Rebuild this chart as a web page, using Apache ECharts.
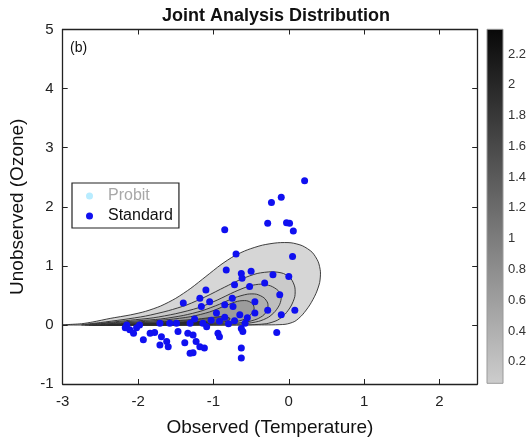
<!DOCTYPE html>
<html>
<head>
<meta charset="utf-8">
<script src="https://cdn.jsdelivr.net/npm/echarts@6/dist/echarts.min.js"></script>
<style>html,body{margin:0;padding:0;background:#fff;}#chart{width:532px;height:444px;}</style>
</head>
<body>
<div id="chart"></div>
<script>
// ---- data ----
const xTicks = [-3, -2, -1, 0, 1, 2];
const yTicks = [-1, 0, 1, 2, 3, 4, 5];
const colorbarTicks = [0.2, 0.4, 0.6, 0.8, 1, 1.2, 1.4, 1.6, 1.8, 2, 2.2];
const colorbarRange = [0.06, 2.36];

const standardPoints = [
  [0.21,2.44],[-0.10,2.16],[-0.23,2.07],[-0.28,1.72],[-0.03,1.73],[0.01,1.72],[0.06,1.59],[-0.85,1.61],[-0.70,1.20],[0.05,1.16],
  [-0.83,0.93],[-0.63,0.87],[-0.50,0.91],[-0.62,0.79],[-0.21,0.85],[0.00,0.82],[-0.72,0.68],[-0.52,0.65],[-0.32,0.71],[-1.10,0.59],
  [-0.12,0.51],[-0.75,0.45],[-1.18,0.45],[-0.45,0.39],[-1.40,0.37],[-1.05,0.39],[-0.85,0.34],[0.08,0.25],[-0.28,0.25],[-1.16,0.31],
  [-0.96,0.20],[-0.74,0.31],[-0.45,0.20],[-0.65,0.17],[-1.03,0.08],[-1.14,0.03],[-0.92,0.06],[-1.31,0.03],[-1.58,0.03],[-1.71,0.03],
  [-0.72,0.07],[-2.15,0.00],[-2.11,-0.08],[-2.06,-0.14],[-2.17,-0.05],[-1.93,-0.25],[-1.84,-0.14],[-1.78,-0.13],[-1.69,-0.20],[-1.62,-0.28],
  [-1.71,-0.34],[-1.60,-0.37],[-1.47,-0.11],[-1.34,-0.14],[-1.27,-0.17],[-1.38,-0.30],[-1.23,-0.28],[-1.18,-0.37],[-1.12,-0.39],[-1.31,-0.48],
  [-1.27,-0.47],[-0.94,-0.14],[-0.92,-0.20],[-0.63,-0.06],[-0.61,-0.11],[-0.63,-0.39],[-0.63,-0.56],[-0.16,-0.13],[-1.49,0.03],[-1.09,-0.03],
  [-1.25,0.10],[-0.85,0.13],[-0.58,0.03],[-0.55,0.12],[-0.80,0.02],[-0.10,0.17],[-2.02,-0.05],[-1.98,0.00]
];
const probitPoints = [];

// contour outlines (outer -> inner)
const contour1 = [[-3.0,0.0],[-2.75,0.02],[-2.6,0.05],[-2.37,0.11],[-2.1,0.17],[-1.9,0.23],[-1.7,0.32],[-1.5,0.45],[-1.3,0.62],[-1.1,0.82],[-0.9,1.02],[-0.72,1.17],[-0.55,1.27],[-0.35,1.35],[-0.15,1.39],[0.03,1.39],[0.18,1.34],[0.31,1.23],[0.39,1.07],[0.42,0.9],[0.41,0.72],[0.36,0.53],[0.28,0.34],[0.18,0.17],[0.08,0.06],[-0.05,0.01],[-0.4,0.0],[-1.2,0.0],[-2.2,0.0]];
const contour2 = [[-2.75,0.0],[-2.5,0.04],[-2.2,0.09],[-1.9,0.15],[-1.6,0.24],[-1.35,0.34],[-1.1,0.48],[-0.85,0.64],[-0.62,0.78],[-0.42,0.87],[-0.22,0.9],[-0.07,0.87],[0.03,0.78],[0.08,0.64],[0.08,0.48],[0.03,0.32],[-0.05,0.18],[-0.15,0.08],[-0.3,0.02],[-0.6,0.0],[-1.5,0.0],[-2.3,0.0]];
const contour3 = [[-2.7,0.0],[-2.4,0.04],[-2.1,0.08],[-1.8,0.12],[-1.5,0.19],[-1.2,0.29],[-0.95,0.42],[-0.72,0.56],[-0.52,0.66],[-0.37,0.69],[-0.24,0.66],[-0.14,0.58],[-0.10,0.47],[-0.12,0.35],[-0.18,0.23],[-0.27,0.13],[-0.4,0.06],[-0.6,0.02],[-1.0,0.0],[-2.0,0.0]];
const contour4 = [[-2.65,0.0],[-2.3,0.04],[-2.0,0.07],[-1.7,0.1],[-1.4,0.16],[-1.15,0.24],[-0.92,0.35],[-0.72,0.46],[-0.55,0.52],[-0.43,0.52],[-0.33,0.46],[-0.28,0.37],[-0.28,0.27],[-0.33,0.17],[-0.42,0.1],[-0.56,0.05],[-0.8,0.02],[-1.3,0.0],[-2.0,0.0]];
const contour5 = [[-2.6,0.0],[-2.2,0.035],[-1.9,0.06],[-1.6,0.09],[-1.3,0.14],[-1.05,0.22],[-0.85,0.32],[-0.68,0.40],[-0.56,0.41],[-0.48,0.36],[-0.46,0.27],[-0.5,0.18],[-0.58,0.1],[-0.72,0.05],[-0.95,0.02],[-1.4,0.0],[-2.0,0.0]];
const contour6 = [[-2.5,0.0],[-2.1,0.03],[-1.8,0.05],[-1.5,0.07],[-1.2,0.1],[-1.0,0.13],[-0.85,0.14],[-0.78,0.11],[-0.8,0.07],[-0.9,0.04],[-1.1,0.02],[-1.5,0.005],[-2.0,0.0]];
const contour7 = [[-2.4,0.0],[-2.0,0.02],[-1.7,0.035],[-1.4,0.05],[-1.2,0.06],[-1.08,0.05],[-1.1,0.025],[-1.3,0.01],[-1.8,0.0]];
const contours = [contour1, contour2, contour3, contour4, contour5, contour6, contour7];
const contourFills = ['#d6d6d6', '#cacaca', '#bebebe', '#b0b0b0', '#9c9c9c', '#5e5e5e', '#2a2a2a'];

const FONT = 'Liberation Sans, Arial, Helvetica, sans-serif';
const chart = echarts.init(document.getElementById('chart'));

const tickStyle = { show: true, inside: true, length: 5, lineStyle: { color: '#222', width: 1 } };
const lineStyle = { show: true, onZero: false, lineStyle: { color: '#222', width: 1.3 } };

chart.setOption({
  animation: false,
  backgroundColor: '#fff',
  title: {
    text: 'Joint Analysis Distribution',
    left: 157, top: 2,
    textStyle: { fontFamily: FONT, fontSize: 18, fontWeight: 'bold', color: '#111' }
  },
  graphic: [{
    type: 'text', left: 70, top: 41,
    style: { text: '(b)', font: '14px ' + FONT, fill: '#111' }
  }],
  legend: {
    orient: 'vertical', left: 72, top: 183,
    padding: [5, 6, 4, 14],
    itemGap: 4, itemWidth: 7, itemHeight: 7,
    backgroundColor: '#fff', borderColor: '#222', borderWidth: 1.2,
    textStyle: { fontFamily: FONT, fontSize: 16, color: '#111', padding: [0, 0, 0, 10] },
    data: [
      { name: 'Probit', icon: 'circle', textStyle: { color: '#a8a8a8' } },
      { name: 'Standard', icon: 'circle' }
    ],
    z: 10
  },
  grid: [
    { left: 62.7, top: 29.5, width: 414.5, height: 354.5, show: false },
    { left: 487, top: 29.3, width: 16, height: 354, show: false }
  ],
  xAxis: [
    {
      gridIndex: 0, type: 'value', min: -3, max: 2.5, interval: 1, position: 'bottom',
      axisLine: lineStyle, axisTick: tickStyle, splitLine: { show: false },
      axisLabel: { fontFamily: FONT, fontSize: 15, color: '#222', margin: 10, customValues: xTicks },
      name: 'Observed (Temperature)', nameLocation: 'middle', nameGap: 34,
      nameTextStyle: { fontFamily: FONT, fontSize: 19, color: '#111' }
    },
    {
      gridIndex: 0, type: 'value', min: -3, max: 2.5, interval: 1, position: 'top',
      axisLine: lineStyle, axisTick: tickStyle, axisLabel: { show: false }, splitLine: { show: false }
    },
    {
      gridIndex: 1, type: 'value', min: 0, max: 1, show: false
    }
  ],
  yAxis: [
    {
      gridIndex: 0, type: 'value', min: -1, max: 5, interval: 1, position: 'left',
      axisLine: lineStyle, axisTick: tickStyle, splitLine: { show: false },
      axisLabel: { fontFamily: FONT, fontSize: 15, color: '#222', margin: 9, customValues: yTicks },
      name: 'Unobserved (Ozone)', nameLocation: 'middle', nameGap: 35, nameRotate: 90,
      nameTextStyle: { fontFamily: FONT, fontSize: 19, color: '#111' }
    },
    {
      gridIndex: 0, type: 'value', min: -1, max: 5, interval: 1, position: 'right',
      axisLine: lineStyle, axisTick: tickStyle, axisLabel: { show: false }, splitLine: { show: false }
    },
    {
      gridIndex: 1, type: 'value', min: colorbarRange[0], max: colorbarRange[1], position: 'right',
      axisLine: { show: false, onZero: false }, splitLine: { show: false },
      axisTick: { show: true, inside: true, length: 3, lineStyle: { color: '#888' }, customValues: colorbarTicks },
      axisLabel: { fontFamily: FONT, fontSize: 13, color: '#333', margin: 5, customValues: colorbarTicks,
        formatter: v => String(+(+v).toFixed(1)) }
    }
  ],
  series: [
    {
      name: 'contours', type: 'custom', xAxisIndex: 0, yAxisIndex: 0, silent: true, z: 1,
      clip: true,
      data: contours.map(c => c[0]),
      renderItem: (params, api) => {
        const pts = contours[params.dataIndex].map(p => api.coord(p));
        return {
          type: 'polygon',
          shape: { points: pts, smooth: 0.25 },
          style: { fill: contourFills[params.dataIndex], stroke: '#2a2a2a', lineWidth: 0.9 }
        };
      }
    },
    {
      name: 'colorbar', type: 'custom', xAxisIndex: 2, yAxisIndex: 2, silent: true, z: 1,
      data: [[0, colorbarRange[1]]],
      renderItem: (params, api) => {
        const p0 = api.coord([0, colorbarRange[1]]);
        const p1 = api.coord([1, colorbarRange[0]]);
        return {
          type: 'rect',
          shape: { x: p0[0], y: p0[1], width: p1[0] - p0[0], height: p1[1] - p0[1] },
          style: {
            fill: new echarts.graphic.LinearGradient(0, 0, 0, 1, [
              { offset: 0, color: '#080808' }, { offset: 1, color: '#cdcdcd' }
            ]),
            stroke: '#9a9a9a', lineWidth: 1
          }
        };
      }
    },
    {
      name: 'Probit', type: 'scatter', xAxisIndex: 0, yAxisIndex: 0, z: 3,
      symbol: 'circle', symbolSize: 7, itemStyle: { color: '#b8ecff', opacity: 1 }, data: probitPoints
    },
    {
      name: 'Standard', type: 'scatter', xAxisIndex: 0, yAxisIndex: 0, z: 4,
      symbol: 'circle', symbolSize: 7, itemStyle: { color: '#1010f0', opacity: 1 }, data: standardPoints
    }
  ]
});
</script>
</body>
</html>
